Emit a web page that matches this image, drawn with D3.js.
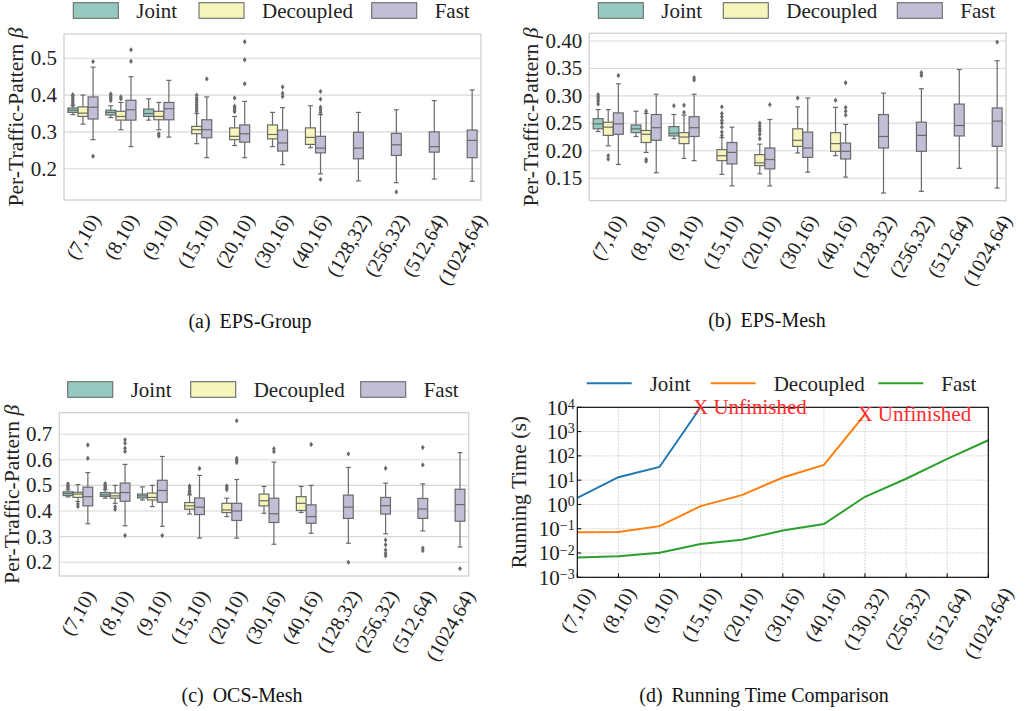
<!DOCTYPE html>
<html><head><meta charset="utf-8">
<script src="https://cdnjs.cloudflare.com/ajax/libs/d3/7.8.5/d3.min.js"></script>
<style>body{margin:0;background:#fff} svg{font-family:"Liberation Serif","Times New Roman",Tinos,"DejaVu Serif","Noto Serif",serif}</style>
</head><body>
<svg id="c" width="1027" height="711"></svg>
<script>
// ---------------- DATA ----------------
const categories = ["(7,10)","(8,10)","(9,10)","(15,10)","(20,10)","(30,16)","(40,16)","(128,32)","(256,32)","(512,64)","(1024,64)"];
const categoriesTime = ["(7,10)","(8,10)","(9,10)","(15,10)","(20,10)","(30,16)","(40,16)","(130,32)","(256,32)","(512,64)","(1024,64)"];
const seriesNames = ["Joint","Decoupled","Fast"];
const boxColors = ["#96cac1","#f5f5bc","#c1bed6"];
const lineColors = ["#1f77b4","#ff7f0e","#2ca02c"];

// box stats: [whiskerLow, q1, median, q3, whiskerHigh, outliers]
const epsGroupJoint = [
  [0.347,0.353,0.359,0.365,0.371,[0.374,0.378,0.383,0.388,0.393,0.398,0.401]],
  [0.339,0.346,0.353,0.359,0.371,[0.385,0.390,0.395,0.400,0.403]],
  [0.332,0.342,0.350,0.362,0.390,[]],
  null,null,null,null,null,null,null,null];
const epsGroupDecoupled = [
  [0.321,0.342,0.351,0.368,0.400,[]],
  [0.306,0.332,0.342,0.356,0.380,[0.390,0.395]],
  [0.306,0.333,0.342,0.356,0.380,[0.295,0.289]],
  [0.268,0.295,0.306,0.315,0.350,[0.356,0.362,0.368,0.374,0.380,0.386,0.392,0.400]],
  [0.263,0.279,0.288,0.311,0.342,[0.355,0.360,0.365,0.370,0.392]],
  [0.260,0.281,0.293,0.319,0.353,[]],
  [0.257,0.266,0.285,0.311,0.371,[]],
  null,null,null,null];
const epsGroupFast = [
  [0.279,0.335,0.367,0.395,0.476,[0.491,0.234]],
  [0.260,0.332,0.360,0.386,0.450,[0.492,0.523]],
  [0.286,0.333,0.363,0.380,0.440,[]],
  [0.230,0.284,0.306,0.333,0.395,[0.444]],
  [0.230,0.272,0.295,0.319,0.383,[0.431,0.496,0.545]],
  [0.211,0.248,0.270,0.305,0.366,[0.396,0.405,0.422]],
  [0.186,0.243,0.256,0.288,0.347,[0.353,0.360,0.367,0.389,0.410,0.171]],
  [0.167,0.227,0.256,0.299,0.353,[]],
  [0.162,0.236,0.265,0.296,0.360,[0.137]],
  [0.172,0.245,0.260,0.300,0.385,[]],
  [0.166,0.230,0.277,0.305,0.414,[]]];

const epsMeshJoint = [
  [0.235,0.240,0.249,0.2585,0.275,[0.285,0.290,0.294,0.298,0.302]],
  [0.226,0.233,0.240,0.247,0.272,[]],
  [0.222,0.227,0.232,0.244,0.266,[0.282]],
  null,null,null,null,null,null,null,null];
const epsMeshDecoupled = [
  [0.209,0.228,0.243,0.252,0.275,[0.191,0.185]],
  [0.197,0.215,0.230,0.237,0.268,[0.272,0.184,0.181]],
  [0.186,0.213,0.225,0.233,0.265,[0.270,0.283]],
  [0.157,0.182,0.191,0.202,0.224,[0.228,0.234,0.243,0.250,0.255,0.262,0.268,0.280]],
  [0.158,0.173,0.178,0.193,0.212,[0.222,0.230,0.236,0.240,0.245,0.250]],
  [0.196,0.208,0.219,0.240,0.280,[0.296]],
  [0.191,0.199,0.213,0.233,0.279,[0.292]],
  null,null,null,null];
const epsMeshFast = [
  [0.175,0.230,0.249,0.269,0.322,[0.337]],
  [0.160,0.219,0.242,0.266,0.303,[]],
  [0.182,0.226,0.242,0.262,0.303,[0.329,0.333]],
  [0.136,0.176,0.197,0.215,0.243,[]],
  [0.136,0.167,0.184,0.205,0.257,[0.284]],
  [0.161,0.188,0.205,0.234,0.296,[]],
  [0.152,0.185,0.199,0.214,0.248,[0.265,0.272,0.279,0.324]],
  [0.123,0.205,0.226,0.266,0.305,[]],
  [0.126,0.199,0.228,0.252,0.313,[0.337,0.342]],
  [0.168,0.227,0.246,0.285,0.348,[]],
  [0.132,0.208,0.254,0.278,0.364,[0.398]]];

const ocsMeshJoint = [
  [0.455,0.460,0.468,0.475,0.483,[0.490,0.495,0.500,0.506]],
  [0.450,0.457,0.463,0.472,0.483,[0.488,0.493,0.498,0.503,0.507]],
  [0.443,0.451,0.459,0.466,0.494,[]],
  null,null,null,null,null,null,null,null];
const ocsMeshDecoupled = [
  [0.437,0.453,0.466,0.473,0.503,[0.427,0.418]],
  [0.430,0.450,0.459,0.470,0.500,[0.417,0.407]],
  [0.417,0.443,0.453,0.470,0.500,[]],
  [0.388,0.407,0.420,0.433,0.463,[0.468,0.474,0.480,0.490,0.498]],
  [0.378,0.394,0.404,0.430,0.450,[0.483,0.490,0.498]],
  [0.391,0.420,0.440,0.466,0.496,[]],
  [0.394,0.402,0.430,0.456,0.496,[]],
  null,null,null,null];
const ocsMeshFast = [
  [0.350,0.420,0.456,0.493,0.550,[0.606,0.658]],
  [0.342,0.438,0.472,0.509,0.582,[0.632,0.645,0.665,0.678,0.304]],
  [0.340,0.434,0.480,0.520,0.613,[0.304]],
  [0.294,0.386,0.415,0.451,0.539,[0.566]],
  [0.294,0.363,0.400,0.430,0.523,[0.589,0.597,0.606,0.753]],
  [0.270,0.355,0.389,0.450,0.591,[0.632,0.643]],
  [0.313,0.352,0.378,0.424,0.500,[0.660]],
  [0.274,0.371,0.415,0.462,0.570,[0.623,0.200]],
  [0.311,0.388,0.421,0.453,0.509,[0.567,0.287,0.268,0.248,0.235,0.225]],
  [0.322,0.371,0.408,0.449,0.506,[0.648,0.580,0.255,0.245]],
  [0.259,0.360,0.425,0.485,0.628,[0.175]]];

// running time (s)
const timeJoint     = [1.85, 13.2, 35, 10000, null, null, null, null, null, null, null];
const timeDecoupled = [0.072, 0.073, 0.128, 0.85, 2.42, 12.9, 42.7, 5100, null, null, null];
const timeFast      = [0.0066, 0.0073, 0.0102, 0.0234, 0.035, 0.085, 0.155, 2.07, 11.4, 75, 440];
const unfinishedAt  = [{series:0, index:3}, {series:1, index:7}];
const unfinishedText = "X Unfinished";

const ticksGroup = [0.2,0.3,0.4,0.5];
const ticksGroupLabels = ["0.2","0.3","0.4","0.5"];
const ticksMesh = [0.15,0.20,0.25,0.30,0.35,0.40];
const ticksMeshLabels = ["0.15","0.20","0.25","0.30","0.35","0.40"];
const ticksOcs = [0.2,0.3,0.4,0.5,0.6,0.7];
const ticksOcsLabels = ["0.2","0.3","0.4","0.5","0.6","0.7"];
const ticksTimeExp = [-3,-2,-1,0,1,2,3,4];

const yLabelBox = "Per-Traffic-Pattern ";
const yLabelTime = "Running Time (s)";
const captions = [["(a)","EPS-Group"],["(b)","EPS-Mesh"],["(c)","OCS-Mesh"],["(d)","Running Time Comparison"]];

// ---------------- LAYOUT ----------------
const svg = d3.select("#c");
const GRAY = "#6a6a6a";

// font-size calibration so text widths match the reference regardless of the fallback font
const probe = svg.append("text").attr("font-size",100).text("Decoupled");
const K = 91 / (probe.node().getComputedTextLength()/100);   // px font size giving 91px "Decoupled"
probe.remove();
const fs = r => (K*r).toFixed(2);   // r relative to legend font size
const FS = fs(1);

const boxPanels = [
  {L:64, R:481, T:34, B:200, dom:[0.115,0.566], ticks:ticksGroup, tl:ticksGroupLabels,
   data:[epsGroupJoint,epsGroupDecoupled,epsGroupFast], legX:[73.3,199,371.7], legY:2.7,
   ylx:22.5, cap:captions[0], capX:250, capY:328},
  {L:589.3, R:1006, T:33.3, B:200.7, dom:[0.109,0.414], ticks:ticksMesh, tl:ticksMeshLabels,
   data:[epsMeshJoint,epsMeshDecoupled,epsMeshFast], legX:[598.3,723.3,897.3], legY:2.7,
   ylx:537.5, cap:captions[1], capX:767, capY:327},
  {L:59.3, R:468.7, T:412.7, B:576, dom:[0.146,0.784], ticks:ticksOcs, tl:ticksOcsLabels,
   data:[ocsMeshJoint,ocsMeshDecoupled,ocsMeshFast], legX:[67.7,190.7,360.7], legY:381.7,
   ylx:19, cap:captions[2], capX:242, capY:702}
];

function caption(c, x, y){
  const t = svg.append("text").attr("x",x).attr("y",y).attr("text-anchor","middle")
    .attr("font-size",fs(0.95)).attr("fill","#111");
  t.append("tspan").text(c[0]);
  t.append("tspan").attr("dx",9).text(c[1]);
}

function xTickLabels(g, xs, labels, B, pad, size){
  const th = 60*Math.PI/180;
  labels.forEach((lab,i)=>{
    const t = g.append("text").attr("font-size",size).attr("text-anchor","middle")
      .attr("dominant-baseline","central").attr("fill","#222").text(lab);
    const L = t.node().getComputedTextLength();
    const h = size*0.75;
    const H = L*Math.sin(th) + h*Math.cos(th);
    t.attr("transform",`translate(${xs[i]},${B+pad+H/2}) rotate(-60)`);
  });
}

function diamond(g, cx, cy){
  g.append("path").attr("d",`M${cx},${cy-2.7}L${cx+1.9},${cy}L${cx},${cy+2.7}L${cx-1.9},${cy}Z`)
    .attr("fill",GRAY);
}

boxPanels.forEach(p=>{
  const g = svg.append("g");
  const x = d3.scaleBand().domain(categories).range([p.L,p.R]).padding(0);
  const y = d3.scaleLinear().domain(p.dom).range([p.B,p.T]);
  g.selectAll(".grid").data(p.ticks).enter().append("line")
    .attr("x1",p.L).attr("x2",p.R).attr("y1",d=>y(d)).attr("y2",d=>y(d))
    .attr("stroke","#d8d8d8").attr("stroke-width",1.1);
  g.selectAll(".yt").data(p.ticks).enter().append("text")
    .attr("x",p.L-7).attr("y",d=>y(d)).attr("dy","0.33em").attr("text-anchor","end")
    .attr("font-size",FS).attr("fill","#222").text((d,i)=>p.tl[i]);
  const bw = x.bandwidth();
  const slot = bw*0.8/3;
  const boxW = slot*0.98;
  p.data.forEach((arr,j)=>{
    arr.forEach((d,i)=>{
      if(!d) return;
      const cx = x(categories[i]) + bw/2 + (j-1)*slot;
      const [lo,q1,med,q3,hi,out] = d;
      const bg = g.append("g");
      const seg = (x1,y1,x2,y2)=>bg.append("line").attr("x1",x1).attr("x2",x2).attr("y1",y1).attr("y2",y2)
        .attr("stroke",GRAY).attr("stroke-width",1.2);
      seg(cx,y(q3),cx,y(hi));
      seg(cx,y(q1),cx,y(lo));
      seg(cx-boxW/4,y(hi),cx+boxW/4,y(hi));
      seg(cx-boxW/4,y(lo),cx+boxW/4,y(lo));
      bg.append("rect").attr("x",cx-boxW/2).attr("width",boxW)
        .attr("y",y(q3)).attr("height",y(q1)-y(q3))
        .attr("fill",boxColors[j]).attr("stroke",GRAY).attr("stroke-width",1.2);
      seg(cx-boxW/2,y(med),cx+boxW/2,y(med));
      out.forEach(o=>diamond(bg,cx,y(o)));
    });
  });
  g.append("rect").attr("x",p.L).attr("y",p.T).attr("width",p.R-p.L).attr("height",p.B-p.T)
    .attr("fill","none").attr("stroke","#d0d0d0").attr("stroke-width",1.3);
  xTickLabels(g, categories.map(c=>x(c)+bw/2), categories, p.B, 12, fs(0.95));
  const yl = g.append("text").attr("transform",`translate(${p.ylx},${(p.T+p.B)/2}) rotate(-90)`)
    .attr("text-anchor","middle").attr("font-size",fs(1.03)).attr("fill","#222");
  yl.append("tspan").text(yLabelBox);
  yl.append("tspan").attr("font-style","italic").text("β");
  seriesNames.forEach((s,j)=>{
    g.append("rect").attr("x",p.legX[j]).attr("y",p.legY).attr("width",45).attr("height",15.6)
      .attr("fill",boxColors[j]).attr("stroke",GRAY).attr("stroke-width",1.1);
    g.append("text").attr("x",p.legX[j]+63).attr("y",p.legY+15.6).attr("font-size",FS)
      .attr("fill","#222").text(s);
  });
  caption(p.cap, p.capX, p.capY);
});

// ---------------- RUNNING TIME PANEL ----------------
(function(){
  const L=577.3, R=988.3, T=407.3, B=577.3;
  const g = svg.append("g");
  const x = d3.scalePoint().domain(categoriesTime).range([L,R]).padding(0);
  const y = d3.scaleLog().domain([1e-3,1e4]).range([B,T]);
  const tickVals = ticksTimeExp.map(e=>Math.pow(10,e));
  g.selectAll(".hg").data(tickVals).enter().append("line")
    .attr("x1",L).attr("x2",R).attr("y1",d=>y(d)).attr("y2",d=>y(d))
    .attr("stroke","#b5b5b5").attr("stroke-width",0.9).attr("stroke-dasharray","1.2,1.8");
  g.selectAll(".vg").data(categoriesTime).enter().append("line")
    .attr("x1",d=>x(d)).attr("x2",d=>x(d)).attr("y1",T).attr("y2",B)
    .attr("stroke","#b5b5b5").attr("stroke-width",0.9).attr("stroke-dasharray","1.2,1.8");
  const defs = svg.append("defs");
  defs.append("clipPath").attr("id","clipD").append("rect")
    .attr("x",L).attr("y",T-1).attr("width",R-L).attr("height",B-T+1);
  const series = [timeJoint,timeDecoupled,timeFast];
  const line = d3.line().defined(d=>d.v!=null).x(d=>x(d.c)).y(d=>y(d.v));
  series.forEach((s,j)=>{
    g.append("path").attr("clip-path","url(#clipD)")
      .attr("d",line(s.map((v,i)=>({c:categoriesTime[i],v}))))
      .attr("fill","none").attr("stroke",lineColors[j]).attr("stroke-width",2);
  });
  g.append("rect").attr("x",L).attr("y",T).attr("width",R-L).attr("height",B-T)
    .attr("fill","none").attr("stroke","#000").attr("stroke-width",1.1);
  g.selectAll(".xt").data(categoriesTime).enter().append("line")
    .attr("x1",d=>x(d)).attr("x2",d=>x(d)).attr("y1",B).attr("y2",B-4)
    .attr("stroke","#000").attr("stroke-width",1);
  g.selectAll(".ytk").data(tickVals).enter().append("line")
    .attr("x1",L).attr("x2",L+4).attr("y1",d=>y(d)).attr("y2",d=>y(d))
    .attr("stroke","#000").attr("stroke-width",1);
  ticksTimeExp.forEach(e=>{
    const t = g.append("text").attr("x",L-2.5).attr("y",y(Math.pow(10,e))).attr("dy","0.35em")
      .attr("text-anchor","end").attr("font-size",FS).attr("fill","#222");
    t.append("tspan").text("10");
    t.append("tspan").attr("dy","-0.4em").attr("font-size",fs(0.67)).text(e<0?"\u2212"+(-e):String(e));
  });
  xTickLabels(g, categoriesTime.map(c=>x(c)), categoriesTime, B, 8, fs(0.95));
  unfinishedAt.forEach(u=>{
    const v = series[u.series][u.index];
    const px = x(categoriesTime[u.index]), py = y(v);
    const t = g.append("text").attr("x",px).attr("y",py).attr("dy","0.33em").attr("font-size",FS)
      .attr("fill","#ff2a2a").text(unfinishedText);
    const xw = t.node().getSubStringLength(0,1);
    t.attr("x",px - xw/2);
  });
  g.append("text").attr("transform",`translate(526,${(T+B)/2}) rotate(-90)`)
    .attr("text-anchor","middle").attr("font-size",fs(1.03)).attr("fill","#222").text(yLabelTime);
  const legX=[586.7,710.7,878.3];
  seriesNames.forEach((s,j)=>{
    g.append("line").attr("x1",legX[j]).attr("x2",legX[j]+45).attr("y1",383.3).attr("y2",383.3)
      .attr("stroke",lineColors[j]).attr("stroke-width",2);
    g.append("text").attr("x",legX[j]+63).attr("y",390.6).attr("font-size",FS)
      .attr("fill","#222").text(s);
  });
  caption(captions[3], 764, 702);
})();
</script>
</body></html>
